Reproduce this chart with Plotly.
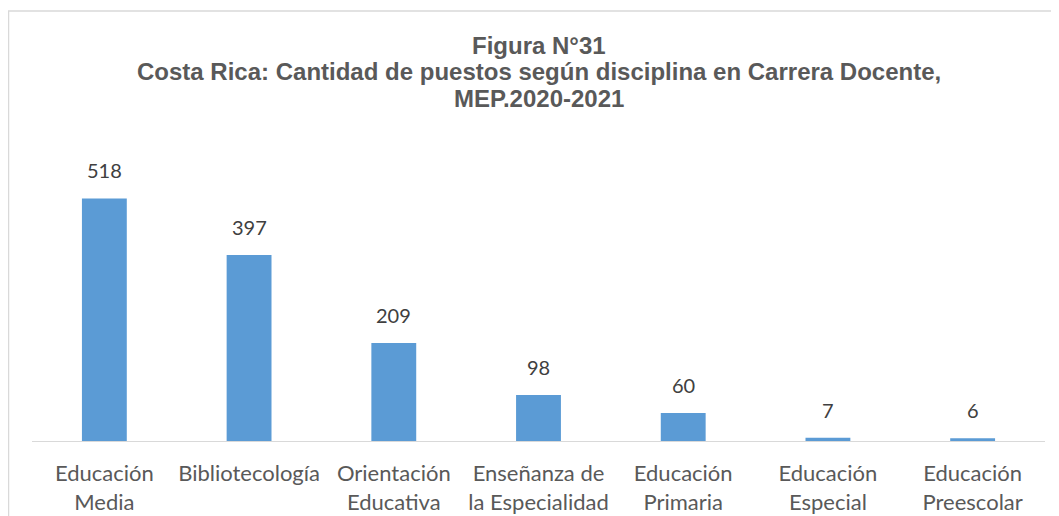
import plotly.graph_objects as go

# Data
categorias = ["Educación<br>Media", "Bibliotecología", "Orientación<br>Educativa",
              "Enseñanza de<br>la Especialidad", "Educación<br>Primaria",
              "Educación<br>Especial", "Educación<br>Preescolar"]
puestos = [518, 397, 209, 98, 60, 7, 6]

titulo = ["Figura N°31",
          "Costa Rica: Cantidad de puestos según disciplina en Carrera Docente,",
          "MEP.2020-2021"]

W, H = 1059, 516
L, R, T, B = 24, 22, 152, 83
ph = H - T - B

fig = go.Figure(go.Bar(
    x=categorias, y=puestos,
    marker=dict(color="#5B9BD5", line=dict(width=0)),
    hoverinfo="x+y",
))

# value labels above bars
for c, v in zip(categorias, puestos):
    fig.add_annotation(x=c, y=v, text=str(v), showarrow=False,
                       yanchor="bottom", yshift=14,
                       font=dict(family="Lato", size=20, color="#404040"))

# title, one line per annotation to keep the tight line spacing
for linea, ypx in zip(titulo, [37, 64, 90]):
    fig.add_annotation(xref="paper", yref="paper", x=0.5, y=(H - B - ypx) / ph,
                       text="<b>" + linea + "</b>", showarrow=False,
                       xanchor="center", yanchor="middle",
                       font=dict(family="Liberation Sans", size=24, color="#595959"))

# chart area border (left and top visible)
fig.add_shape(type="rect", xref="paper", yref="paper",
              x0=(0.5 - L) / (W - L - R), x1=(1080 - L) / (W - L - R),
              y0=(H - B - 540) / ph, y1=(H - B - 3) / ph,
              line=dict(color="#D9D9D9", width=1.5), fillcolor="rgba(0,0,0,0)",
              layer="below")

fig.update_layout(
    width=W, height=H,
    margin=dict(l=L, r=R, t=T, b=B, autoexpand=False),
    paper_bgcolor="white", plot_bgcolor="white",
    bargap=0.69,
    showlegend=False,
    xaxis=dict(showline=True, linecolor="#D9D9D9", linewidth=1, ticks="",
               automargin=False,
               tickfont=dict(family="Lato", size=22, color="#595959"),
               ticklabelstandoff=13),
    yaxis=dict(range=[0, 600], visible=False, showgrid=False, zeroline=False),
)

fig.write_html("out.html")
